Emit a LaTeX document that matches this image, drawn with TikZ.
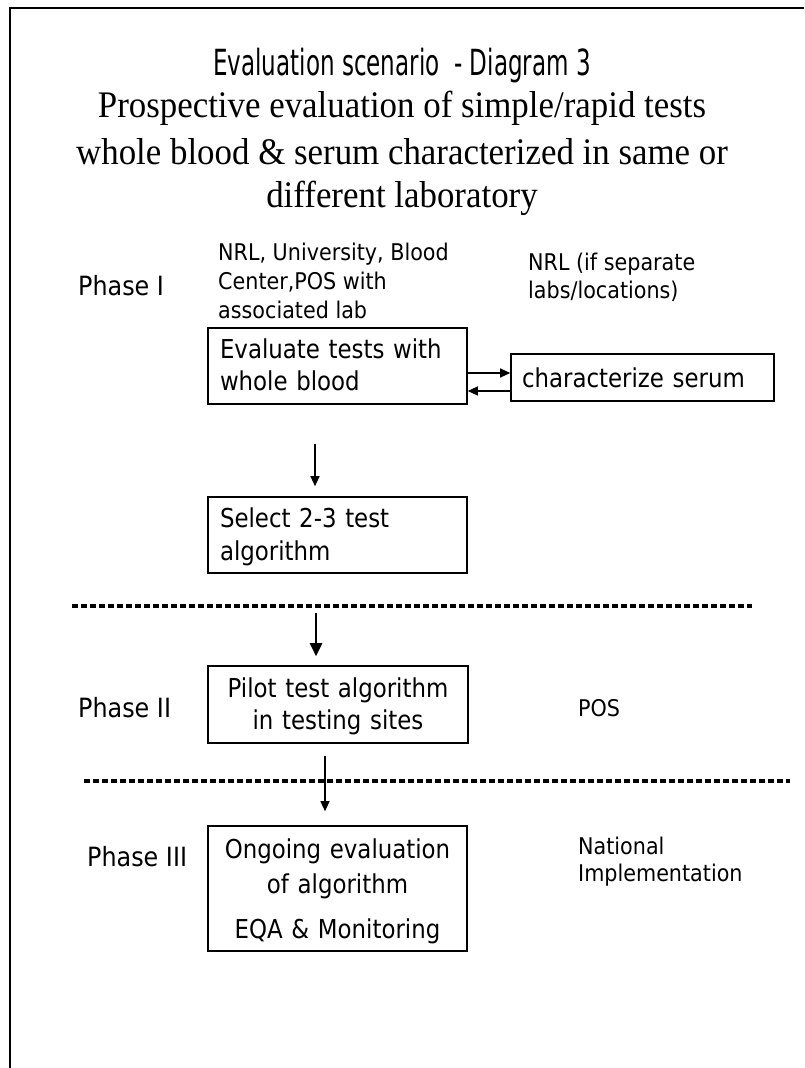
\documentclass[tikz,border=0pt]{standalone}
\usepackage{fontspec}
\setmainfont[FakeStretch=0.93]{Liberation Serif}
\newfontfamily\headsans[FakeStretch=0.64]{DejaVu Sans}
\newfontfamily\boxsans[FakeStretch=0.88]{DejaVu Sans}
\newfontfamily\notesans[FakeStretch=0.90]{DejaVu Sans}
\usetikzlibrary{arrows.meta}
% strut sized to the current \baselineskip, so every line of a box has the same pitch
\newcommand\lnstrut{\rule[-0.22\baselineskip]{0pt}{\baselineskip}}

\begin{document}
\begin{tikzpicture}[x=1pt,y=-1pt,
  titlesans/.style={font=\headsans\fontsize{36}{40}\selectfont, inner sep=0pt, anchor=base},
  serifline/.style={font=\fontsize{37.5}{42}\selectfont, inner sep=0pt, anchor=base},
  sidelbl/.style={font=\notesans\fontsize{23}{28}\selectfont, inner sep=0pt, anchor=base west},
  phaselbl/.style={font=\notesans\fontsize{26.5}{30}\selectfont, inner sep=0pt, anchor=base west},
  stepbox/.style={draw, line width=1.6pt, inner xsep=12pt, inner ysep=0pt,
    text width=235pt, font=\boxsans\fontsize{26}{32}\selectfont},
  flow/.style={line width=1.2pt, -{Triangle[length=10pt,width=9pt]}},
  flowbold/.style={line width=2.6pt, -{Triangle[length=13pt,width=12pt]}},
  phasesep/.style={line width=4pt, dash pattern=on 6pt off 3pt},
]
\useasboundingbox (0,0) rectangle (804,1068);
\fill[white] (0,0) rectangle (804,1068);

% page frame (top and left edges)
\draw[line width=2.5pt] (804,8) -- (10,8) -- (10,1068);

% heading
\node[titlesans] (t1) at (402,75) {Evaluation scenario\ \ - Diagram 3};
\node[serifline] (t2) at (402,117.5) {Prospective evaluation of simple/rapid tests};
\node[serifline] (t3) at (402,164.5) {whole blood \& serum characterized in same or};
\node[serifline] (t4) at (402,207.5) {different laboratory};

% Phase I
\node[sidelbl] (siteA1) at (218,260) {NRL, University, Blood};
\node[sidelbl] (siteA2) at (218,289) {Center,POS with};
\node[sidelbl] (siteA3) at (218,318) {associated lab};
\node[sidelbl] (siteB1) at (528,270) {NRL (if separate};
\node[sidelbl] (siteB2) at (528,298) {labs/locations)};
\node[phaselbl] (ph1) at (78,295) {Phase I};

\node[stepbox, align=left, minimum height=76pt] (evalwb) at (337.5,366)
  {\lnstrut Evaluate tests with\\\lnstrut whole blood};
\node[stepbox, align=left, text width=241pt, inner xsep=11pt, minimum height=47pt,
  font=\boxsans\fontsize{26}{36}\selectfont] (serum) at (642.5,377.5)
  {\lnstrut characterize serum};
\node[stepbox, align=left, minimum height=76pt,
  font=\boxsans\fontsize{26}{33}\selectfont] (select) at (337.5,535)
  {\lnstrut Select 2-3 test\\\lnstrut algorithm};

\draw[flow] ([yshift=-7pt]evalwb.east) -- ([yshift=4.5pt]serum.west);
\draw[flow] ([yshift=-13.5pt]serum.west) -- ([yshift=-25pt]evalwb.east);
\draw[flow] ([xshift=-22.5pt,yshift=-39pt]evalwb.south) -- ([xshift=-22.5pt,yshift=10pt]select.north);

\draw[phasesep] (72,606) -- (752,606);

% Phase II
\node[phaselbl] (ph2) at (78,717) {Phase II};
\node[sidelbl] (pos) at (578,716) {POS};
\node[stepbox, align=center, text width=236pt, minimum height=77pt] (pilot) at (338,704.5)
  {\lnstrut Pilot test algorithm\\\lnstrut in testing sites};
\draw[flowbold] ([xshift=-21.5pt,yshift=-39pt]select.south) -- ([xshift=-22pt,yshift=9pt]pilot.north);

\draw[phasesep] (84,781) -- (790,781);

% Phase III
\node[phaselbl] (ph3) at (87,866) {Phase III};
\node[sidelbl] (nat1) at (578,854) {National};
\node[sidelbl] (nat2) at (578,881) {Implementation};
\node[stepbox, align=center, minimum height=125pt,
  font=\boxsans\fontsize{26}{35}\selectfont] (ongoing) at (337.5,888.5)
  {\lnstrut Ongoing evaluation\\\lnstrut of algorithm\\[10pt]\lnstrut EQA \& Monitoring};
\draw[flow] ([xshift=-13pt,yshift=-12pt]pilot.south) -- ([xshift=-12.5pt,yshift=14pt]ongoing.north);
\end{tikzpicture}
\end{document}
